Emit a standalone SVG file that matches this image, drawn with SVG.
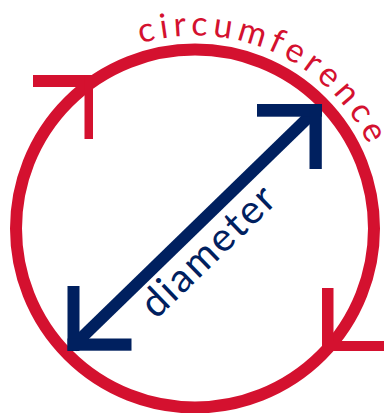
<svg xmlns="http://www.w3.org/2000/svg" width="384" height="413" viewBox="0 0 384 413">
<style>
.red{fill:#D4112F}
.navy{fill:#00205F}
.ring{fill:none;stroke:#D4112F;stroke-width:12}
.lbl{font-family:Lato,"Open Sans",sans-serif}
</style>
<defs>
<path id="arc" d="M140.6,43.5 A192,192 0 0,1 384.5,195"/>
</defs>
<rect width="384" height="413" fill="#fff"/>
<g id="circle">
<circle class="ring" cx="195" cy="228.5" r="179"/>
<rect class="red" x="33" y="75" width="60" height="12"/>
<rect class="red" x="84.5" y="75" width="8.5" height="64"/>
<rect class="red" x="322" y="288" width="11.5" height="63"/>
<rect class="red" x="322" y="341" width="62" height="10"/>
</g>
<g id="circumference-label">
<text class="lbl" font-size="34" fill="#D4112F" letter-spacing="5"><textPath href="#arc">circumference</textPath></text>
</g>
<g id="connectors">
<line x1="318" y1="108" x2="72" y2="347" stroke="#00205F" stroke-width="12"/>
<rect class="navy" x="257" y="104" width="65" height="12.7"/>
<rect class="navy" x="309.5" y="104" width="12.3" height="65"/>
<rect class="navy" x="67.5" y="286" width="12" height="65"/>
<rect class="navy" x="67.5" y="338.5" width="64" height="12.2"/>
</g>
<g id="diameter-label">
<text class="lbl" font-size="40" fill="#00205F" transform="translate(156,320) rotate(-44)" textLength="170" lengthAdjust="spacing">diameter</text>
</g>
</svg>
